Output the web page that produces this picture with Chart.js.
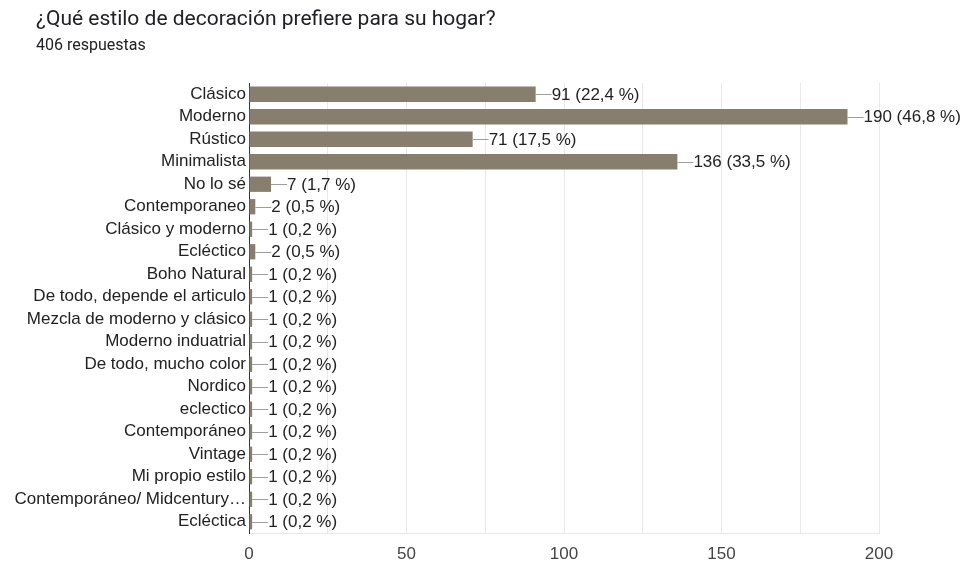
<!DOCTYPE html>
<html>
<head>
<meta charset="utf-8">
<script src="https://cdn.jsdelivr.net/npm/chart.js@4"></script>
<style>
  body { margin: 0; background: #fff; }
  #wrap { position: relative; width: 966px; height: 564px; }
  .title { position: absolute; left: 36px; top: 6px; font: 21px Roboto, sans-serif; color: #202124; }
  .sub { position: absolute; left: 36px; top: 35px; font: 16px Roboto, sans-serif; color: #202124; }
  canvas { position: absolute; left: 0; top: 0; }
</style>
</head>
<body>
<div id="wrap">
  <canvas id="chart" width="966" height="564"></canvas>
  <div class="title">¿Qué estilo de decoración prefiere para su hogar?</div>
  <div class="sub">406 respuestas</div>
</div>
<script>
const TOTAL = 406;
const categories = [
  "Clásico", "Moderno", "Rústico", "Minimalista", "No lo sé", "Contemporaneo",
  "Clásico y moderno", "Ecléctico", "Boho Natural", "De todo, depende el articulo",
  "Mezcla de moderno y clásico", "Moderno induatrial", "De todo, mucho color",
  "Nordico", "eclectico", "Contemporáneo", "Vintage", "Mi propio estilo",
  "Contemporáneo/ Midcentury…", "Ecléctica"
];
const counts = [91, 190, 71, 136, 7, 2, 1, 2, 1, 1, 1, 1, 1, 1, 1, 1, 1, 1, 1, 1];
const xTicks = [0, 50, 100, 150, 200];

const FONT = "'Liberation Sans', Arial, sans-serif";

// value label with a short leader line at the end of each bar
const valueLabels = {
  id: "valueLabels",
  afterDatasetsDraw(chart) {
    const { ctx } = chart;
    const meta = chart.getDatasetMeta(0);
    ctx.save();
    ctx.font = "17px " + FONT;
    ctx.textBaseline = "middle";
    ctx.textAlign = "left";
    meta.data.forEach((bar, i) => {
      const v = counts[i];
      const pct = (v / TOTAL * 100).toFixed(1).replace(".", ",");
      const y = Math.round(bar.y) + 0.5;
      ctx.strokeStyle = "#9e9e9e";
      ctx.lineWidth = 1;
      ctx.beginPath();
      ctx.moveTo(bar.x, y);
      ctx.lineTo(bar.x + 16, y);
      ctx.stroke();
      ctx.fillStyle = "#222";
      ctx.fillText(v + " (" + pct + " %)", bar.x + 16, bar.y + 1);
    });
    ctx.restore();
  }
};

new Chart(document.getElementById("chart"), {
  type: "bar",
  data: {
    labels: categories,
    datasets: [{
      data: counts,
      backgroundColor: "#887e6e",
      barPercentage: 0.68,
      categoryPercentage: 1
    }]
  },
  plugins: [valueLabels],
  options: {
    indexAxis: "y",
    responsive: false,
    animation: false,
    layout: { padding: { top: 83, right: 87, bottom: 0, left: 0 } },
    plugins: { legend: { display: false }, tooltip: { enabled: false } },
    scales: {
      x: {
        min: 0,
        max: 200,
        afterFit: (scale) => { scale.height = 31; },
        ticks: {
          stepSize: 25,
          autoSkip: false,
          maxRotation: 0,
          padding: 11,
          color: "#444",
          font: { family: FONT, size: 17 },
          callback: (v) => (xTicks.includes(v) ? v : "")
        },
        grid: { color: "#e8e8e8", drawTicks: false },
        border: { color: "#e8e8e8" }
      },
      y: {
        afterFit: (scale) => { scale.width = 249; },
        ticks: {
          autoSkip: false,
          padding: 3,
          color: "#222",
          font: { family: FONT, size: 17 }
        },
        grid: { display: false, drawTicks: false },
        border: { color: "#333", width: 1 }
      }
    }
  }
});
</script>
</body>
</html>
